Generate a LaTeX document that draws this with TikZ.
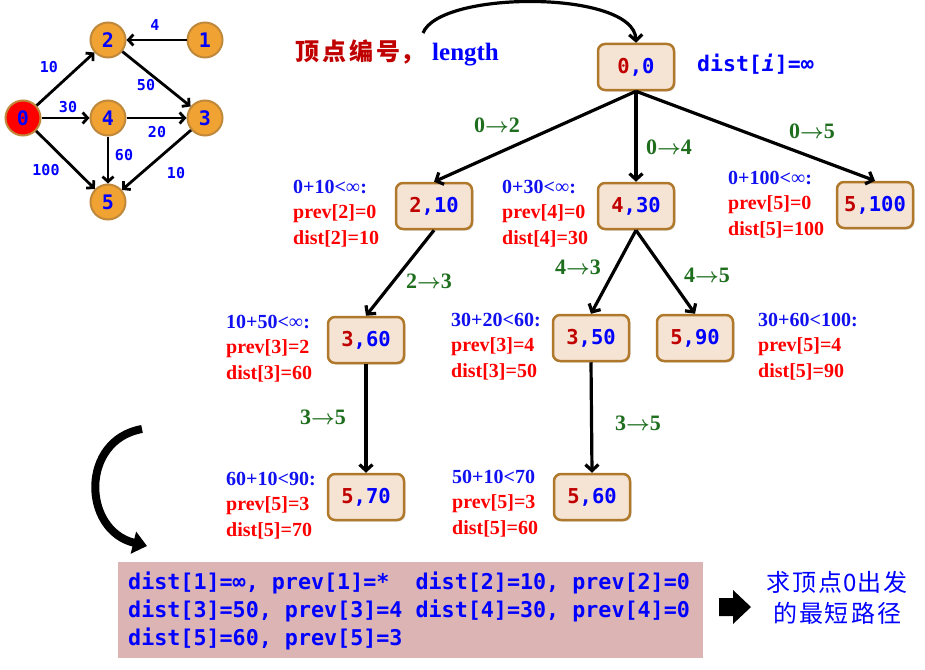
\documentclass[tikz,border=0pt]{standalone}
\usepackage{fontspec}
\usetikzlibrary{arrows.meta,shadows}
\newfontfamily\monof{DejaVu Sans Mono}
\newfontfamily\serf{Liberation Serif}
\newfontfamily\cjk{Noto Sans CJK SC}
\definecolor{boxfill}{HTML}{F5E4D4}
\definecolor{boxdraw}{HTML}{B0782A}
\definecolor{dred}{HTML}{C00000}
\definecolor{nblue}{HTML}{0000FF}
\definecolor{ablue}{HTML}{1010F0}
\definecolor{ared}{HTML}{FF0000}
\definecolor{egreen}{HTML}{1E6E1E}
\definecolor{gorange}{HTML}{F0A232}
\definecolor{gborder}{HTML}{C0883A}
\definecolor{pinkbg}{HTML}{DDB4B4}
\newcommand\annot[3]{\begin{tabular}[t]{@{}l@{}}\textcolor{ablue}{#1}\\\textcolor{ared}{#2}\\\textcolor{ared}{#3}\end{tabular}}
\newcommand\bxt[2]{\textcolor{dred}{#1}\textcolor{nblue}{,#2}}
\newcommand\arr[2]{#1{\boldmath$\rightarrow$}#2}
\begin{document}
\begin{tikzpicture}[x=1pt,y=-1pt,
  tbox/.style={draw=boxdraw, line width=2.5pt, fill=boxfill, rounded corners=7pt,
    minimum width=76pt, minimum height=46pt, inner sep=2pt,
    font=\monof\bfseries\fontsize{20.5}{24}\selectfont,
    drop shadow={opacity=0.25, shadow xshift=1.5pt, shadow yshift=-1.5pt}},
  tedge/.style={line width=3.2pt, -{Straight Barb[length=6pt,width=13pt]}},
  elab/.style={text=egreen, font=\serf\bfseries\fontsize{22}{26}\selectfont, inner sep=0pt},
  ann/.style={anchor=base west, inner sep=0pt, font=\serf\bfseries\fontsize{20}{25.5}\selectfont},
  gnode/.style={circle, draw=gborder, line width=2pt, fill=gorange, minimum size=35pt, inner sep=0pt,
    text=nblue, font=\monof\bfseries\fontsize{20}{24}\selectfont},
  gedge/.style={line width=2.8pt, -{Straight Barb[length=5pt,width=11pt]}},
  glab/.style={text=nblue, font=\monof\bfseries\fontsize{15}{18}\selectfont, inner sep=0pt}
]
\useasboundingbox (0,0) rectangle (925,669);

% ---- small graph ----
\node[gnode] (g2) at (108,40) {2};
\node[gnode] (g1) at (205,40) {1};
\node[gnode,fill=red] (g0) at (23,118) {0};
\node[gnode] (g4) at (108,118) {4};
\node[gnode] (g3) at (205,118) {3};
\node[gnode] (g5) at (108,202) {5};
\draw[gedge] (g1) -- (g2);
\draw[gedge] (g0) -- (g2);
\draw[gedge] (g2) -- (g3);
\draw[gedge] (g0) -- (g4);
\draw[gedge] (g4) -- (g3);
\draw[gedge] (g0) -- (g5);
\draw[gedge] (g4) -- (g5);
\draw[gedge] (g3) -- (g5);
\node[glab] (w12) at (155,25) {4};
\node[glab] (w02) at (49,67) {10};
\node[glab] (w23) at (146,85) {50};
\node[glab] (w04) at (68,107) {30};
\node[glab] (w43) at (157,132) {20};
\node[glab] (w45) at (124,155) {60};
\node[glab] (w05) at (46,170) {100};
\node[glab] (w35) at (176,173) {10};

% ---- title ----
\node[anchor=base west, inner sep=0pt] (title) at (295,60)
  {{\cjk\bfseries\fontsize{24}{28}\selectfont\textcolor{dred}{顶\hspace{3pt}点\hspace{3pt}编\hspace{3pt}号，}}\hspace{8pt}{\serf\bfseries\fontsize{25}{28}\selectfont\textcolor{nblue}{length}}};
\node[anchor=west, inner sep=0pt, text=nblue, font=\monof\bfseries\fontsize{21.5}{24}\selectfont] (distinf) at (697,64) {dist[{\itshape i}]=∞};

% ---- tree nodes ----
\node[tbox] (n00) at (636,67) {\bxt{0}{0}};
\node[tbox] (n210) at (434,206) {\bxt{2}{10}};
\node[tbox] (n430) at (636,206) {\bxt{4}{30}};
\node[tbox] (n5100) at (875,205) {\bxt{5}{100}};
\node[tbox] (n360) at (366,340) {\bxt{3}{60}};
\node[tbox] (n350) at (591,338) {\bxt{3}{50}};
\node[tbox] (n590) at (695,338) {\bxt{5}{90}};
\node[tbox] (n570) at (366,497) {\bxt{5}{70}};
\node[tbox] (n560) at (592,497) {\bxt{5}{60}};

\coordinate (cs) at (423,33);
\draw[line width=3.2pt, -{Straight Barb[length=6pt,width=13pt]}] (cs) .. controls (440,-10) and (634,-10) .. (n00.north);

\draw[tedge] (n00.south) -- (n210.north);
\draw[tedge] (n00.south) -- (n430.north);
\draw[tedge] (n00.south) -- (n5100.north);
\draw[tedge] (n210.south) -- (n360.north);
\draw[tedge] (n430.south) -- (n350.north);
\draw[tedge] (n430.south) -- (n590.north);
\draw[tedge] (n360.south) -- (n570.north);
\draw[tedge] (n350.south) -- (n560.north);

\node[elab] (l02) at (497,125) {\arr{0}{2}};
\node[elab] (l04) at (669,147) {\arr{0}{4}};
\node[elab] (l05) at (812,131) {\arr{0}{5}};
\node[elab] (l23) at (429,281) {\arr{2}{3}};
\node[elab] (l43) at (578,267) {\arr{4}{3}};
\node[elab] (l45) at (707,275) {\arr{4}{5}};
\node[elab] (l35a) at (323,417) {\arr{3}{5}};
\node[elab] (l35b) at (638,423) {\arr{3}{5}};

% ---- annotations ----
\node[ann] (a1) at (293,193) {\annot{0+10<\textmd{∞}:}{prev[2]=0}{dist[2]=10}};
\node[ann] (a2) at (502,193) {\annot{0+30<\textmd{∞}:}{prev[4]=0}{dist[4]=30}};
\node[ann] (a3) at (728,184) {\annot{0+100<\textmd{∞}:}{prev[5]=0}{dist[5]=100}};
\node[ann] (a4) at (226,328) {\annot{10+50<\textmd{∞}:}{prev[3]=2}{dist[3]=60}};
\node[ann] (a5) at (451,326) {\annot{30+20<60:}{prev[3]=4}{dist[3]=50}};
\node[ann] (a6) at (758,326) {\annot{30+60<100:}{prev[5]=4}{dist[5]=90}};
\node[ann] (a7) at (226,485) {\annot{60+10<90:}{prev[5]=3}{dist[5]=70}};
\node[ann] (a8) at (452,483) {\annot{50+10<70}{prev[5]=3}{dist[5]=60}};

% ---- big curved arrow ----
\coordinate (bs) at (142,429);
\coordinate (be) at (147,546);
\draw[line width=8pt, -{Triangle[length=14pt,width=22pt]}] (bs) .. controls (80,440) and (82,530) .. (be);

% ---- result panel ----
\node[fill=pinkbg, minimum width=585pt, minimum height=96pt, anchor=north west, inner sep=0pt] (panel) at (118,562) {};
\node[anchor=base west, inner sep=0pt, text=nblue, font=\monof\bfseries\fontsize{21.7}{28}\selectfont] (res) at (128,589)
  {\begin{tabular}[t]{@{}l@{}}dist[1]=∞, prev[1]=*~~dist[2]=10, prev[2]=0\\dist[3]=50, prev[3]=4 dist[4]=30, prev[4]=0\\dist[5]=60, prev[5]=3\end{tabular}};

\fill[black] (719,598) -- (733,598) -- (733,590) -- (751,607) -- (733,624) -- (733,616) -- (719,616) -- cycle;
\node[text=nblue, font=\cjk\fontsize{24}{31}\selectfont, align=center, inner sep=0pt] (goal) at (837,598) {求\hspace{2pt}顶\hspace{2pt}点\hspace{1pt}0\hspace{1pt}出\hspace{2pt}发\\的\hspace{2pt}最\hspace{2pt}短\hspace{2pt}路\hspace{2pt}径};
\end{tikzpicture}
\end{document}
